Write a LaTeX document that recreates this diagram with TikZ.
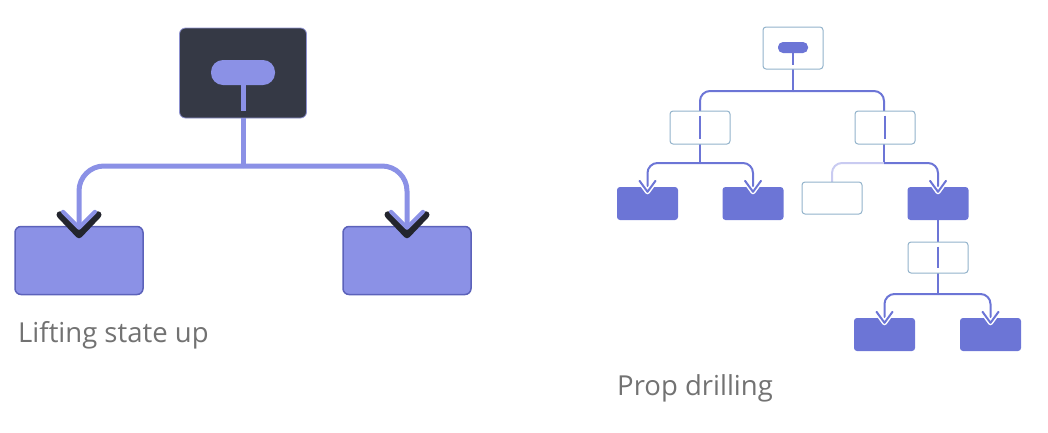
\documentclass[tikz,border=0pt]{standalone}
\usepackage{fontspec}
\setmainfont{Open Sans}
\usepackage{tikz}

\definecolor{slate}{HTML}{353945}
\definecolor{tipdark}{HTML}{23252E}
\definecolor{liftfill}{HTML}{8B91E6}
\definecolor{liftedge}{HTML}{5C62BA}
\definecolor{propfill}{HTML}{6C75D6}
\definecolor{propedge}{HTML}{93B3CB}
\definecolor{fadewire}{HTML}{C9CBF1}
\definecolor{captiongray}{HTML}{727272}

\tikzset{
	parentbox/.style={rectangle, rounded corners=6pt, fill=slate, draw=liftedge!70, line width=0.8pt, minimum width=127pt, minimum height=90pt, inner sep=0pt},
	statepill/.style={rectangle, rounded corners=12pt, fill=liftfill, minimum width=64pt, minimum height=25pt, inner sep=0pt},
	childbox/.style={rectangle, rounded corners=6pt, fill=liftfill, draw=liftedge, line width=1.5pt, minimum width=128pt, minimum height=68pt, inner sep=0pt},
	liftwire/.style={draw=liftfill, line width=5pt},
	propbox/.style={rectangle, rounded corners=3pt, fill=white, draw=propedge, line width=1pt, minimum width=60pt, minimum height=33pt, inner sep=0pt},
	leafbox/.style={rectangle, rounded corners=3pt, fill=propfill, minimum width=61pt, minimum height=33pt, inner sep=0pt},
	proppill/.style={rectangle, rounded corners=5pt, fill=propfill, minimum width=30pt, minimum height=11pt, inner sep=0pt},
	propwire/.style={draw=propfill, line width=2pt},
	caption/.style={anchor=base west, text=captiongray, font=\fontsize{27.5}{32}\selectfont, inner sep=0pt},
	bigtip/.pic={
		\draw[tipdark, line width=7pt, line cap=round, line join=round] (-19,-11) -- (0,9) -- (19,-11);
		\draw[liftfill, line width=4pt, line cap=round, line join=round] (-16,-14) -- (0,2) -- (16,-14);
	},
	smalltip/.pic={
		\draw[white, line width=5pt, line cap=round, line join=round] (-8,-6) -- (0,5) -- (8,-6);
		\draw[propfill, line width=2pt, line cap=round, line join=round] (-8,-6) -- (0,5) -- (8,-6);
	}
}

\begin{document}
\begin{tikzpicture}[x=1pt, y=-1pt]
	\useasboundingbox (0,0) rectangle (1048,432);

	% Lifting state up
	\coordinate (liftfork) at (243,166);
	\node[parentbox] (parent) at (243,73) {};
	\node[statepill] (state) at (243,72.5) {};
	\draw[liftwire] (state.south) -- ++(0,26);
	\node[childbox] (childL) at (79,260.5) {};
	\node[childbox] (childR) at (407,260.5) {};
	\draw[liftwire] (parent.south) -- (liftfork);
	\draw[liftwire, rounded corners=25pt] (liftfork) -| (childL.north);
	\draw[liftwire, rounded corners=25pt] (liftfork) -| (childR.north);
	\pic at (childL.north) {bigtip};
	\pic at (childR.north) {bigtip};
	\node[caption] (liftcap) at (18,342) {Lifting state up};

	% Prop drilling
	\coordinate (fork0) at (793,91);
	\coordinate (fork1) at (700,163);
	\coordinate (fork2) at (884,163);
	\coordinate (fork3) at (938,294);

	\draw[propwire] (793,69) -- (fork0);
	\draw[propwire, rounded corners=10pt] (fork0) -| (700,111);
	\draw[propwire, rounded corners=10pt] (fork0) -| (884,111);
	\draw[propwire] (700,144) -- (fork1);
	\draw[propwire] (884,144) -- (fork2);
	\draw[fadewire, line width=2pt, rounded corners=10pt] (fork2) -| (832,182);
	\draw[propwire] (938,220) -- (938,242);
	\draw[propwire] (938,273) -- (fork3);

	\node[propbox, minimum height=42pt] (root) at (793,48) {};
	\node[proppill] (prop) at (793,47.5) {};
	\draw[propwire] (prop.south) -- ++(0,12);

	\node[propbox] (mid1) at (700,127.5) {};
	\node[propbox] (mid2) at (885,127.5) {};
	\node[propbox, minimum height=32pt] (ghost) at (832,198) {};
	\node[propbox, minimum height=31pt] (mid3) at (938,257.5) {};
	\foreach \m in {mid1,mid2,mid3} {
		\draw[propwire] ([yshift=-5pt]\m.north) -- ([yshift=6pt]\m.south);
	}

	\node[leafbox] (leaf1) at (647.5,203.5) {};
	\node[leafbox] (leaf2) at (753,203.5) {};
	\node[leafbox] (leaf3) at (938,203.5) {};
	\node[leafbox] (leaf4) at (884.5,334.5) {};
	\node[leafbox] (leaf5) at (990.5,334.5) {};

	\draw[propwire, rounded corners=10pt] (fork1) -| (leaf1.north);
	\draw[propwire, rounded corners=10pt] (fork1) -| (leaf2.north);
	\draw[propwire, rounded corners=10pt] (fork2) -| (leaf3.north);
	\draw[propwire, rounded corners=10pt] (fork3) -| (leaf4.north);
	\draw[propwire, rounded corners=10pt] (fork3) -| (leaf5.north);
	\foreach \l in {leaf1,leaf2,leaf3,leaf4,leaf5} {
		\pic at (\l.north) {smalltip};
	}
	\node[caption] (propcap) at (617,395) {Prop drilling};
\end{tikzpicture}
\end{document}
